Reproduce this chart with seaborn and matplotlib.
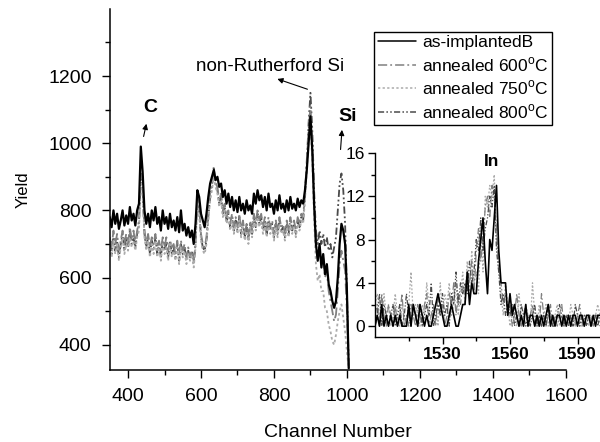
import numpy as np
import pandas as pd
import matplotlib
matplotlib.use("Agg")
import matplotlib.pyplot as plt
import seaborn as sns
from matplotlib.ticker import FixedLocator

sns.set_theme(style="ticks")
plt.rcParams['font.family'] = ['Liberation Sans', 'DejaVu Sans']
plt.rcParams['mathtext.fontset'] = 'custom'
plt.rcParams['mathtext.rm'] = 'Liberation Sans'
plt.rcParams['text.color'] = 'black'
plt.rcParams['axes.labelcolor'] = 'black'
plt.rcParams['xtick.color'] = 'black'
plt.rcParams['ytick.color'] = 'black'

# ---------------- main spectrum (channels 350..1005, step 5) ----------------
main_start, main_step = 350, 5
as_implanted = [
    780, 750, 800, 760, 790, 745, 770, 800, 755, 785,
    760, 810, 770, 790, 755, 800, 820, 990, 915, 800,
    760, 790, 750, 800, 770, 810, 760, 780, 740, 800,
    760, 780, 745, 790, 750, 770, 740, 780, 735, 800,
    740, 760, 725, 750, 720, 740, 700, 760, 860, 840,
    790, 770, 750, 790, 840, 880, 900, 920, 890, 900,
    870, 880, 840, 860, 820, 850, 810, 840, 800, 830,
    795, 840, 800, 820, 790, 830, 800, 815, 790, 850,
    820, 860, 830, 845, 810, 840, 800, 850, 810, 820,
    790, 830, 800, 845, 805, 820, 795, 830, 800, 840,
    805, 820, 800, 835, 810, 830, 820, 860, 920, 1000,
    1080, 980, 820, 700, 650, 700, 630, 670, 610, 640,
    580, 560, 530, 510, 530, 600, 700, 760, 740, 700,
    560, 330]
ann600 = [
    720, 690, 740, 700, 730, 680, 710, 740, 700, 730,
    700, 750, 710, 740, 700, 740, 770, 910, 870, 740,
    700, 730, 690, 720, 700, 730, 690, 710, 680, 720,
    690, 720, 680, 710, 690, 700, 670, 710, 670, 710,
    680, 700, 660, 690, 660, 680, 650, 700, 840, 810,
    730, 700, 690, 720, 790, 850, 880, 910, 880, 870,
    830, 850, 800, 820, 780, 800, 760, 790, 750, 780,
    750, 790, 740, 770, 730, 760, 720, 770, 740, 790,
    760, 800, 770, 790, 750, 780, 740, 780, 750, 770,
    730, 770, 740, 780, 750, 760, 730, 770, 740, 780,
    750, 770, 740, 780, 760, 790, 780, 850, 950, 1040,
    1110, 1010, 830, 700, 660, 690, 640, 660, 600, 620,
    560, 530, 500, 470, 490, 560, 640, 680, 650, 620,
    500, 330]
ann750 = [
    690, 660, 710, 670, 700, 650, 690, 720, 670, 700,
    680, 720, 690, 710, 680, 720, 740, 880, 850, 720,
    680, 710, 660, 700, 670, 710, 660, 690, 650, 700,
    670, 690, 650, 700, 660, 680, 650, 690, 640, 690,
    660, 680, 640, 670, 650, 670, 630, 690, 830, 790,
    710, 680, 670, 700, 770, 830, 860, 900, 870, 850,
    810, 830, 780, 800, 760, 780, 740, 770, 730, 760,
    730, 770, 720, 750, 710, 740, 700, 750, 720, 770,
    740, 780, 750, 770, 730, 760, 720, 760, 730, 750,
    710, 750, 720, 760, 730, 740, 710, 750, 720, 760,
    730, 750, 720, 760, 740, 770, 760, 830, 920, 1010,
    1060, 950, 780, 640, 590, 610, 560, 560, 510, 500,
    460, 440, 410, 400, 430, 470, 500, 520, 480, 440,
    380, 330]
ann800 = [
    700, 670, 720, 680, 710, 660, 700, 730, 680, 720,
    690, 740, 700, 720, 690, 730, 760, 900, 860, 730,
    690, 720, 670, 710, 680, 720, 670, 700, 660, 710,
    680, 700, 660, 710, 670, 690, 660, 700, 650, 700,
    670, 690, 650, 680, 660, 680, 640, 700, 850, 800,
    720, 690, 680, 710, 780, 840, 870, 930, 880, 860,
    820, 840, 790, 810, 770, 790, 750, 780, 740, 770,
    740, 780, 730, 760, 720, 750, 710, 760, 730, 780,
    750, 790, 760, 780, 740, 770, 730, 770, 740, 760,
    720, 760, 730, 770, 740, 750, 720, 760, 730, 770,
    740, 760, 730, 770, 750, 780, 770, 840, 940, 1060,
    1150, 1040, 860, 740, 700, 740, 700, 730, 690, 720,
    680, 700, 660, 690, 720, 800, 880, 910, 860, 760,
    560, 330]

# ---------------- inset (channels 1500..1600, step 1) ----------------
inset_start = 1500
in_as = [
    0, 1, 0, 2, 0, 1, 0, 1, 0, 1,
    0, 1, 0, 0, 0, 2, 0, 2, 1, 0,
    2, 1, 0, 1, 0, 0, 1, 2, 3, 2,
    1, 0, 0, 1, 2, 1, 0, 0, 1, 2,
    2, 5, 2, 4, 3, 3, 6, 8, 10, 6,
    3, 8, 7, 10, 13, 7, 4, 4, 4, 1,
    3, 1, 2, 1, 0, 1, 0, 2, 0, 1,
    1, 0, 1, 0, 1, 0, 1, 2, 0, 1,
    0, 1, 1, 0, 1, 0, 1, 0, 1, 1,
    0, 1, 1, 0, 1, 1, 0, 1, 0, 1,
    1]
in_600 = [
    1, 2, 0, 3, 1, 0, 2, 1, 0, 2,
    0, 1, 3, 0, 1, 0, 2, 1, 0, 2,
    1, 0, 2, 3, 0, 1, 2, 0, 3, 1,
    2, 0, 1, 3, 2, 4, 1, 3, 2, 4,
    3, 5, 4, 6, 3, 7, 9, 6, 8, 11,
    12, 10, 13, 12, 9, 5, 4, 2, 3, 1,
    2, 0, 1, 3, 1, 0, 1, 2, 0, 1,
    2, 0, 1, 0, 3, 1, 0, 1, 2, 0,
    1, 0, 1, 2, 0, 1, 1, 0, 1, 0,
    1, 2, 0, 1, 0, 1, 1, 0, 1, 1,
    0]
in_750 = [
    2, 3, 1, 0, 3, 1, 2, 0, 1, 3,
    1, 0, 2, 1, 0, 2, 5, 1, 2, 1,
    0, 2, 1, 4, 2, 0, 1, 2, 0, 4,
    1, 3, 2, 4, 1, 2, 4, 1, 3, 5,
    2, 6, 3, 7, 4, 5, 3, 9, 5, 12,
    11, 13, 12, 14, 8, 6, 3, 1, 4, 2,
    0, 1, 2, 0, 3, 1, 0, 2, 1, 0,
    4, 1, 0, 2, 0, 1, 2, 0, 1, 0,
    1, 2, 0, 1, 0, 1, 0, 2, 1, 0,
    1, 0, 1, 0, 1, 0, 1, 0, 1, 2,
    1]
in_800 = [
    0, 1, 3, 0, 2, 1, 0, 1, 2, 0,
    1, 2, 0, 1, 3, 1, 0, 2, 1, 0,
    2, 0, 1, 2, 1, 4, 0, 1, 2, 1,
    3, 1, 2, 0, 3, 2, 5, 2, 4, 3,
    4, 3, 6, 4, 5, 8, 7, 10, 7, 9,
    10, 12, 11, 13, 7, 5, 2, 3, 1, 2,
    1, 2, 0, 1, 0, 2, 1, 0, 1, 0,
    1, 2, 0, 1, 0, 1, 0, 2, 1, 0,
    0, 1, 2, 1, 0, 1, 0, 1, 0, 2,
    1, 0, 1, 1, 0, 1, 0, 1, 1, 0,
    1]

labels = ["as-implantedB", r"annealed 600$^\mathrm{o}$C",
          r"annealed 750$^\mathrm{o}$C", r"annealed 800$^\mathrm{o}$C"]
colors = ["#000000", "#808080", "#ababab", "#4a4a4a"]
styles = ["-", (0, (6, 2, 1.2, 2)), (0, (1.5, 1.5)), (0, (4, 1.5, 1, 1.5, 1, 1.5))]
widths = [1.6, 1.3, 1.3, 1.3]

main_series = [as_implanted, ann600, ann750, ann800]
inset_series = [in_as, in_600, in_750, in_800]

fig = plt.figure(figsize=(6.0, 4.42), dpi=100)
ax = fig.add_axes([0.183, 0.163, 0.760, 0.817])

order = [3, 1, 2, 0]
handles = {}
for i in order:
    vals = main_series[i]
    ch = np.arange(main_start, main_start + main_step * len(vals), main_step)
    df = pd.DataFrame({"channel": ch, "yield": vals})
    sns.lineplot(data=df, x="channel", y="yield", ax=ax, color=colors[i],
                 linestyle=styles[i], lw=widths[i], estimator=None, label=labels[i])
    handles[i] = ax.get_lines()[-1]
if ax.get_legend():
    ax.get_legend().remove()

ax.set_xlim(350, 1600)
ax.set_ylim(325, 1400)
ax.xaxis.set_major_locator(FixedLocator([400, 600, 800, 1000, 1200, 1400, 1600]))
ax.xaxis.set_minor_locator(FixedLocator([500, 700, 900, 1100, 1300, 1500]))
ax.yaxis.set_major_locator(FixedLocator([400, 600, 800, 1000, 1200]))
ax.yaxis.set_minor_locator(FixedLocator([500, 700, 900, 1100, 1300]))
ax.tick_params(which="major", direction="out", length=6, width=1, labelsize=14, pad=7)
ax.tick_params(which="minor", direction="out", length=3.5, width=1)
sns.despine(ax=ax)
for s in ("left", "bottom"):
    ax.spines[s].set_color("black")
    ax.spines[s].set_linewidth(1.1)
ax.set_xlabel("Channel Number", fontsize=14, labelpad=14)
ax.set_ylabel("Yield", fontsize=12, labelpad=13)

# annotations
ax.annotate("", xy=(452, 1066), xytext=(441, 1012),
            arrowprops=dict(arrowstyle="-|>", color="black", lw=0.8, mutation_scale=8))
ax.text(460, 1107, "C", fontsize=14, fontweight="bold", ha="center", va="center")
ax.annotate("", xy=(802, 1194), xytext=(899, 1158),
            arrowprops=dict(arrowstyle="-|>", color="black", lw=0.8, mutation_scale=8))
ax.text(790, 1227, "non-Rutherford Si", fontsize=13.5, ha="center", va="center")
ax.annotate("", xy=(987, 1048), xytext=(982, 973),
            arrowprops=dict(arrowstyle="-|>", color="black", lw=0.8, mutation_scale=8))
ax.text(1003, 1080, "Si", fontsize=14, fontweight="bold", ha="center", va="center")

# legend
leg = ax.legend([handles[i] for i in range(4)], labels, loc="upper left",
                bbox_to_anchor=(0.624, 0.928), bbox_transform=fig.transFigure,
                fontsize=12.5, frameon=True, fancybox=False, framealpha=1,
                edgecolor="black", borderpad=0.2, labelspacing=0.28,
                handlelength=2.2, handletextpad=0.35, borderaxespad=0)
leg.get_frame().set_linewidth(1.0)
for ln in leg.get_lines():
    ln.set_linewidth(1.1)

# inset
axi = fig.add_axes([0.625, 0.2376, 0.375, 0.4164])
axi.patch.set_alpha(0)
for i in [2, 1, 3, 0]:
    vals = inset_series[i]
    ch = np.arange(inset_start, inset_start + len(vals))
    df = pd.DataFrame({"channel": ch, "counts": vals})
    sns.lineplot(data=df, x="channel", y="counts", ax=axi, color=colors[i],
                 linestyle=styles[i], lw=0.9 if i else 1.2, estimator=None)
axi.set_xlim(1500, 1600)
axi.set_ylim(-1, 16)
axi.xaxis.set_major_locator(FixedLocator([1530, 1560, 1590]))
axi.xaxis.set_minor_locator(FixedLocator([1515, 1545, 1575]))
axi.yaxis.set_major_locator(FixedLocator([0, 4, 8, 12, 16]))
axi.yaxis.set_minor_locator(FixedLocator([2, 6, 10, 14]))
axi.tick_params(which="major", direction="out", length=5, width=1, labelsize=12.5, pad=2)
axi.tick_params(which="minor", direction="out", length=3, width=1)
for t in axi.get_xticklabels():
    t.set_fontweight("bold")
axi.set_xlabel("")
axi.set_ylabel("")
sns.despine(ax=axi)
for s in ("left", "bottom"):
    axi.spines[s].set_color("black")
    axi.spines[s].set_linewidth(1.0)
axi.text(1552, 15.2, "In", fontsize=12.5, fontweight="bold", ha="center", va="center")

fig.savefig("out.png", dpi=100)
